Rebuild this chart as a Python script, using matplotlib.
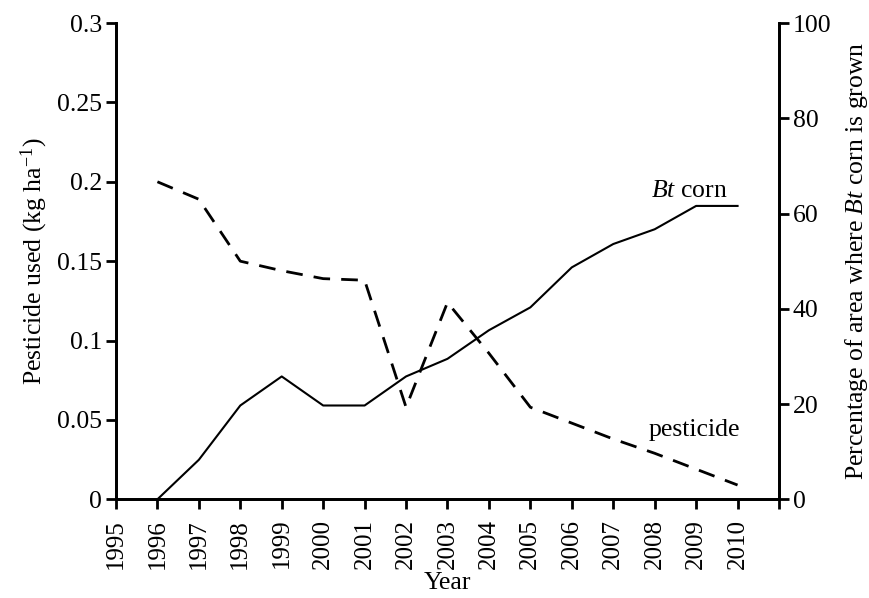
import matplotlib
matplotlib.use("Agg")
import numpy as np
from matplotlib import pyplot as plt

plt.rcParams['font.family'] = ['Liberation Serif', 'DejaVu Serif']
plt.rcParams['mathtext.fontset'] = 'custom'
plt.rcParams['mathtext.rm'] = 'Liberation Serif'
plt.rcParams['mathtext.it'] = 'Liberation Serif:italic'

# Data
years = [1996, 1997, 1998, 1999, 2000, 2001, 2002, 2003,
         2004, 2005, 2006, 2007, 2008, 2009, 2010]
pesticide = [0.200, 0.189, 0.150, 0.144, 0.139, 0.138, 0.058, 0.124,
             0.092, 0.058, 0.048, 0.038, 0.029, 0.019, 0.009]
bt_corn = [0, 8.3, 19.7, 25.8, 19.7, 19.7, 25.8, 29.5,
           35.5, 40.3, 48.7, 53.6, 56.7, 61.6, 61.6]
year_ticks = list(range(1995, 2012))
year_labels = [str(y) for y in range(1995, 2011)] + ['']
left_ticks = [0, 0.05, 0.1, 0.15, 0.2, 0.25, 0.3]
left_labels = ['0', '0.05', '0.1', '0.15', '0.2', '0.25', '0.3']
right_ticks = [0, 20, 40, 60, 80, 100]

fig = plt.figure(figsize=(8.7, 5.98), dpi=100)
ax = fig.add_axes([0.1333, 0.165, 0.7621, 0.7965])
ax2 = ax.twinx()

# Pesticide on the left axis (dashed)
ax.plot(years, pesticide, color='black', linestyle=(0, (6, 4)), linewidth=2.0)
# Bt corn on the right axis (solid)
ax2.plot(years, bt_corn, color='black', linestyle='-', linewidth=1.5)

ax.set_xlim(1995, 2011)
ax.set_ylim(0, 0.3)
ax2.set_ylim(0, 100)

ax.set_xticks(year_ticks)
ax.set_xticklabels(year_labels, rotation=90, fontsize=18)
ax.set_yticks(left_ticks)
ax.set_yticklabels(left_labels, fontsize=18.5)
ax2.set_yticks(right_ticks)
ax2.set_yticklabels([str(t) for t in right_ticks], fontsize=18.5)

for a in (ax, ax2):
    a.spines['top'].set_visible(False)
    for s in a.spines.values():
        s.set_linewidth(2.0)
    a.tick_params(direction='out', length=7, width=2.0, pad=3)
ax.tick_params(axis='x', pad=7)

ax.set_xlabel('Year', fontsize=18.5, labelpad=2)
ax.set_ylabel(r'Pesticide used (kg ha$^{-1}$)', fontsize=18.5, labelpad=5)
ax2.set_ylabel(r'Percentage of area where $Bt$ corn is grown', fontsize=18.5, labelpad=8)

ax2.text(2009.75, 63.4, r'$Bt$ corn', fontsize=18.5, ha='right', va='baseline')
ax.text(2010.05, 0.040, 'pesticide', fontsize=18.5, ha='right', va='baseline')

plt.savefig("out.png", dpi=100)
